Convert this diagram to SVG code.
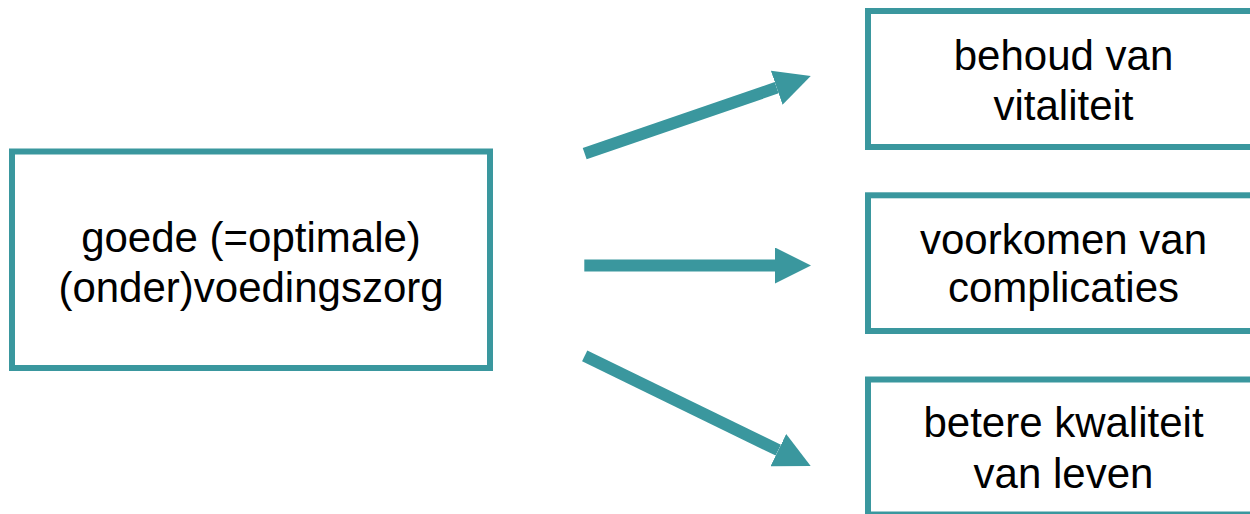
<svg xmlns="http://www.w3.org/2000/svg" width="1250" height="514" viewBox="0 0 1250 514">
<defs>
<style>
.box{fill:#fff;stroke:#3A979E;stroke-width:6}
.lbl{font-family:"Liberation Sans",Arial,sans-serif;font-size:42px;fill:#000;text-anchor:middle}
.conn{stroke:#3A979E;stroke-width:12;fill:none;marker-end:url(#head)}
</style>
<marker id="head" markerUnits="strokeWidth" markerWidth="3" markerHeight="3" viewBox="0 0 3 3" refX="0" refY="1.5" orient="auto">
<path d="M0,0 L3,1.5 L0,3 z" fill="#3A979E"/>
</marker>
</defs>
<rect width="1250" height="514" fill="#fff"/>
<g id="connectors">
<line class="conn" x1="584.7" y1="153.7" x2="776.7" y2="87.7"/>
<line class="conn" x1="584.3" y1="265.5" x2="775" y2="265.5"/>
<line class="conn" x1="584.7" y1="355.8" x2="778.3" y2="450.2"/>
</g>
<g id="node-zorg">
<rect class="box" x="12" y="151.5" width="478" height="216.5"/>
<text class="lbl" x="251" y="252">goede (=optimale)</text>
<text class="lbl" x="251" y="302">(onder)voedingszorg</text>
</g>
<g id="node-vitaliteit">
<rect class="box" x="868" y="11" width="391" height="136"/>
<text class="lbl" x="1063.5" y="70">behoud van</text>
<text class="lbl" x="1063.5" y="120">vitaliteit</text>
</g>
<g id="node-complicaties">
<rect class="box" x="868" y="195.3" width="391" height="135.7"/>
<text class="lbl" x="1063.5" y="253.5">voorkomen van</text>
<text class="lbl" x="1063.5" y="302">complicaties</text>
</g>
<g id="node-kwaliteit">
<rect class="box" x="868" y="379.5" width="391" height="135"/>
<text class="lbl" x="1063.5" y="437">betere kwaliteit</text>
<text class="lbl" x="1063.5" y="488">van leven</text>
</g>
</svg>
